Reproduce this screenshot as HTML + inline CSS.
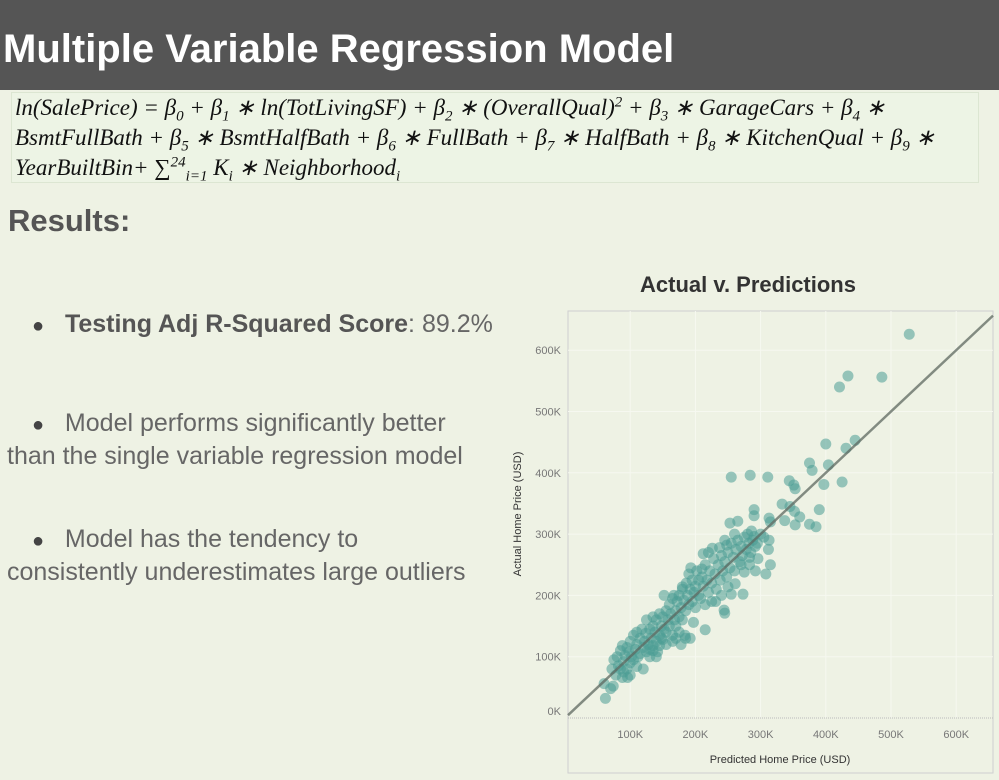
<!DOCTYPE html>
<html><head><meta charset="utf-8"><style>
body{margin:0;width:999px;height:780px;background:#eef2e4;font-family:"Liberation Sans",sans-serif;overflow:hidden;position:relative}
.hdr{position:absolute;left:0;top:0;width:999px;height:90px;background:#555555}
.hdr h1{margin:0;position:absolute;left:3px;top:27px;color:#fff;font-size:40px;font-weight:bold;letter-spacing:0px}
.formula{position:absolute;left:11px;top:92px;width:968px;height:91px;border:1px solid #dce6d2;background:#edf4e5;font-family:"Liberation Serif",serif;font-style:italic;font-size:23px;color:#111;line-height:30px;padding-left:3px;box-sizing:border-box;white-space:nowrap}
.formula sub,.formula sup{font-size:15px;line-height:0}
.res{position:absolute;left:8px;top:203px;font-size:31px;font-weight:bold;color:#555}
.b{position:absolute;font-size:25px;color:#666;white-space:nowrap}
.b b{color:#555}
.dot{color:#444;font-size:20px}
</style></head><body>
<div class="hdr"><h1>Multiple Variable Regression Model</h1></div>
<div class="formula">
<div>ln(SalePrice) = β<sub>0</sub> + β<sub>1</sub> ∗ ln(TotLivingSF) + β<sub>2</sub> ∗ (OverallQual)<sup>2</sup> + β<sub>3</sub> ∗ GarageCars + β<sub>4</sub> ∗</div>
<div>BsmtFullBath + β<sub>5</sub> ∗ BsmtHalfBath + β<sub>6</sub> ∗ FullBath + β<sub>7</sub> ∗ HalfBath + β<sub>8</sub> ∗ KitchenQual + β<sub>9</sub> ∗</div>
<div>YearBuiltBin+ ∑<sup>24</sup><sub>i=1</sub> K<sub>i</sub> ∗ Neighborhood<sub>i</sub></div>
</div>
<div class="res">Results:</div>
<div class="b" style="left:32px;top:310px"><span class="dot">●</span>&nbsp;&nbsp;&nbsp;<b>Testing Adj R-Squared Score</b>: 89.2%</div>
<div class="b" style="left:32px;top:409px"><span class="dot">●</span>&nbsp;&nbsp;&nbsp;Model performs significantly better</div>
<div class="b" style="left:7px;top:442px">than the single variable regression model</div>
<div class="b" style="left:32px;top:525px"><span class="dot">●</span>&nbsp;&nbsp;&nbsp;Model has the tendency to</div>
<div class="b" style="left:7px;top:558px">consistently underestimates large outliers</div>
<svg id="chart" width="999" height="780" style="position:absolute;left:0;top:0"></svg>
<script>
const xTicks=[100,200,300,400,500,600];
const yTicks=[0,100,200,300,400,500,600];
const predicted=[528,434,421,486,445,400,431,375,404,379,255,284,311,425,397,344,351,353,333,390,345,352,360,353,375,385,337,290,253,265,290,313,315,260,286,290,313,245,248,226,220,212,237,292,296,312,283,315,292,283,308,275,270,261,273,255,250,244,245,231,215,192,178,197,184,193,210,152,167,180,
60,62,70,74,72,75,78,80,82,85,88,88,90,92,95,95,98,100,100,102,105,105,108,110,110,112,115,115,118,120,122,124,125,128,130,130,132,135,135,138,140,140,142,145,145,148,150,150,152,155,155,158,160,160,162,165,165,168,170,170,172,175,175,178,180,180,182,185,186,188,190,190,192,195,195,198,200,200,202,205,205,208,210,212,215,215,218,220,222,225,225,228,230,232,235,238,240,240,242,245,248,250,253,255,258,260,262,265,268,270,272,275,278,280,282,285,288,295,300,305,120,140,100,85,155,165,130,145,110,125,135,90,96,135,148,170,185,175];
const actual=[626,558,540,556,453,447,440,416,413,404,393,396,393,385,381,387,380,374,349,340,345,337,328,315,316,312,322,340,318,321,330,326,320,300,305,296,290,290,282,277,270,268,278,280,260,275,262,250,240,250,235,238,250,219,202,202,214,176,171,190,144,130,120,156,135,245,243,200,200,214,
56,32,48,52,80,95,70,100,85,110,66,118,92,102,80,115,108,90,125,100,95,135,112,120,84,100,130,105,145,115,125,138,108,120,145,112,130,150,118,140,160,125,108,135,170,150,128,165,145,175,140,160,150,185,170,135,195,160,175,150,190,165,200,180,160,210,192,175,220,200,185,235,210,190,225,205,215,180,240,200,225,195,230,215,185,250,225,205,240,220,190,260,235,210,250,225,265,200,240,255,230,270,245,285,262,240,275,290,255,280,265,295,275,300,285,270,290,285,300,295,80,100,70,80,120,125,100,118,140,160,165,75,66,110,130,130,130,140];
const NS='http://www.w3.org/2000/svg';
const svg=document.getElementById('chart');
const L=568,R=993,T=311,B=773;
function xs(v){return 565+v*0.652;}
function ys(v){return 718-v*0.613;}
function mk(t,a,parent){const e=document.createElementNS(NS,t);for(const k in a)e.setAttribute(k,a[k]);(parent||svg).appendChild(e);return e;}
let t=mk('text',{x:748,y:292,'text-anchor':'middle','font-size':22,'font-weight':'bold',fill:'#333','font-family':'Liberation Sans'});


t.textContent='Actual v. Predictions';
let pane=mk('rect',{x:L,y:T,width:R-L,height:B-T,fill:'none',stroke:'#cfcfcf','stroke-width':1});


xTicks.forEach(v=>{
  let g=mk('line',{x1:xs(v),x2:xs(v),y1:T,y2:718,stroke:'#f6f8f0','stroke-width':1});
  
  
  let l=mk('text',{x:xs(v),y:738,'text-anchor':'middle','font-size':11,fill:'#777'});
  
  
  l.textContent=v+'K';
});
yTicks.forEach(v=>{
  if(v>0){let g=mk('line',{x1:L,x2:R,y1:ys(v),y2:ys(v),stroke:'#f6f8f0','stroke-width':1});
  
  }
  let l=mk('text',{x:561,y:v===0?ys(v)-3:ys(v)+4,'text-anchor':'end','font-size':11,fill:'#777'});
  
  
  l.textContent=v+'K';
});
let z=mk('line',{x1:L,x2:R,y1:718,y2:718,stroke:'#bbb','stroke-width':1,'stroke-dasharray':'1,1'});


const g=mk('g',{});


predicted.forEach((p,i)=>{
  let c=mk('circle',{cx:xs(p),cy:ys(actual[i]),r:5.5,fill:'#4a9d93','fill-opacity':0.55},g);
  
  
});
const x0=(L-565)/0.652, x1=(R-565)/0.652;
let tl=mk('line',{x1:xs(x0),y1:ys(x0),x2:xs(x1),y2:ys(x1),stroke:'#5d6860','stroke-width':2.5,'stroke-opacity':0.75});


let xt=mk('text',{x:780,y:763,'text-anchor':'middle','font-size':11,fill:'#333'});


xt.textContent='Predicted Home Price (USD)';
let yt=mk('text',{x:0,y:0,'text-anchor':'middle','font-size':11,fill:'#333',transform:'translate(521,514) rotate(-90)'});


yt.textContent='Actual Home Price (USD)';
</script>
</body></html>
